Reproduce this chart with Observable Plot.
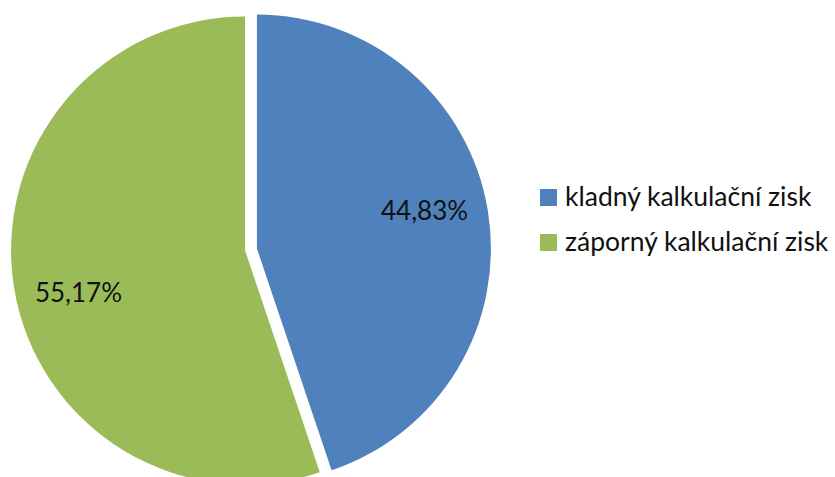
<!DOCTYPE html>
<html>
<head>
<meta charset="utf-8">
<script src="https://cdn.jsdelivr.net/npm/d3@7"></script>
<script src="https://cdn.jsdelivr.net/npm/@observablehq/plot@0.6"></script>
<style>
  html, body { margin: 0; padding: 0; background: #fff; }
  #wrap { position: relative; width: 835px; height: 477px; overflow: hidden; font-family: Lato, "Open Sans", sans-serif; }
  #legend { position: absolute; left: 540px; top: 173px; }
  .row { display: flex; align-items: center; height: 45px; font-size: 26.5px; color: #111; white-space: nowrap; }
  .sw { width: 17px; height: 17px; margin-right: 8px; margin-top: 4px; flex: none; }
</style>
</head>
<body>
<div id="wrap"></div>
<script>
const categories = ["kladný kalkulační zisk", "záporný kalkulační zisk"];
const shares = [44.83, 55.17];
const shareLabels = ["44,83%", "55,17%"];
const colors = ["#4F81BD", "#9BBB59"];

const data = categories.map((c, i) => ({category: c, value: shares[i], label: shareLabels[i]}));
const arcs = d3.pie().sort(null).value(d => d.value)(data);

const explode = 6;      // px offset of each slice
const labelK = 0.76;    // label radius, fraction of r
const labelShift = -0.07; // rad

const labelData = arcs.map(a => {
  const m = (a.startAngle + a.endAngle) / 2 + labelShift;
  return {label: a.data.label, category: a.data.category, x: Math.sin(m) * labelK, y: Math.cos(m) * labelK};
});

function pieMark(index, scales, values, dimensions) {
  const cx = scales.x(0), cy = scales.y(0);
  const r = scales.x(1) - scales.x(0);
  const g = d3.create("svg:g");
  const arc = d3.arc().innerRadius(0).outerRadius(r);
  for (const a of arcs) {
    const m = (a.startAngle + a.endAngle) / 2;
    const dx = Math.sin(m) * explode, dy = -Math.cos(m) * explode;
    g.append("path")
      .attr("d", arc(a))
      .attr("transform", `translate(${cx + dx},${cy + dy})`)
      .attr("fill", scales.color(a.data.category));
  }
  return g.node();
}

const chart = Plot.plot({
  width: 835,
  height: 477,
  margin: 0,
  x: {domain: [-1, 1], range: [17, 485], axis: null},
  y: {domain: [-1, 1], range: [483.5, 15.5], axis: null},
  color: {domain: categories, range: colors},
  style: {fontFamily: "Lato, 'Open Sans', sans-serif", overflow: "visible"},
  marks: [
    pieMark,
    Plot.text(labelData, {x: "x", y: "y", text: "label", fontSize: 26, fill: "#111", textAnchor: "middle", dy: 3})
  ]
});

const wrap = document.getElementById("wrap");
wrap.appendChild(chart);

const legend = document.createElement("div");
legend.id = "legend";
categories.forEach((c, i) => {
  const row = document.createElement("div");
  row.className = "row";
  const sw = document.createElement("div");
  sw.className = "sw";
  sw.style.background = colors[i];
  const t = document.createElement("span");
  t.textContent = c;
  row.appendChild(sw); row.appendChild(t);
  legend.appendChild(row);
});
wrap.appendChild(legend);
</script>
</body>
</html>
